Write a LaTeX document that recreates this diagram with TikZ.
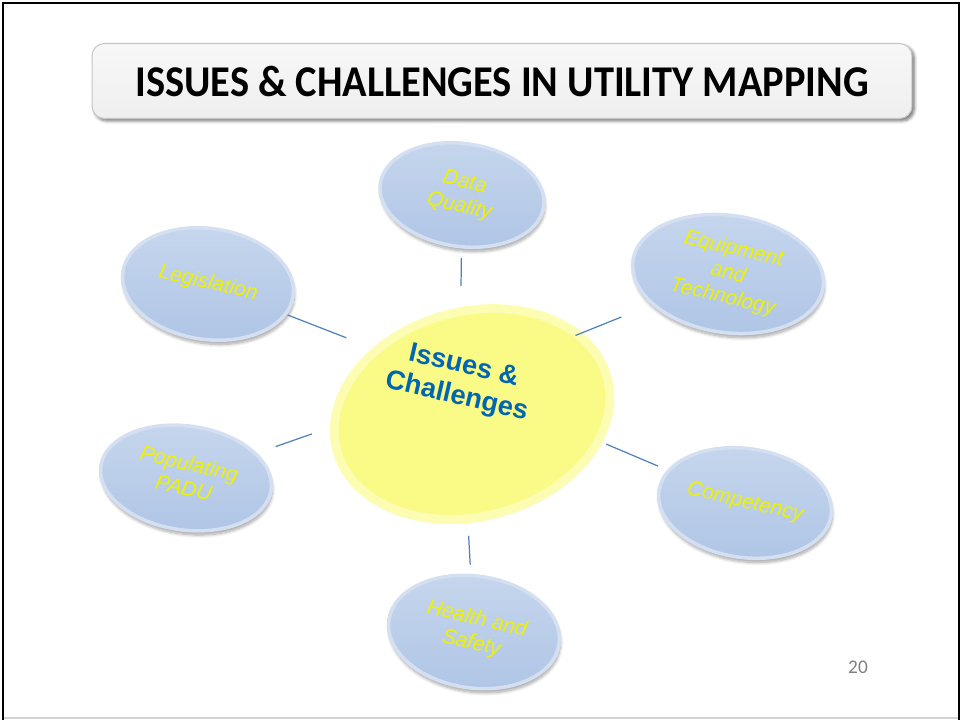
\documentclass[tikz,border=0pt]{standalone}
\usepackage{graphicx}
\usepackage{fontspec}
\newfontfamily\arialfont{Liberation Sans}
\newfontfamily\calibrifont{Carlito}
\newfontfamily\titlefont[FakeStretch=0.92]{Carlito}
\usetikzlibrary{shapes.geometric,shadows.blur}

\definecolor{discblue}{RGB}{176,198,230}
\definecolor{discword}{RGB}{238,242,0}
\definecolor{hubyellow}{RGB}{250,250,135}
\definecolor{hubrim}{RGB}{252,252,178}
\definecolor{hubword}{RGB}{0,102,178}
\definecolor{linkblue}{RGB}{79,129,189}

% tilted text inside a disc
\newcommand\tilt[1]{\rotatebox{-5}{\begin{tabular}{@{}c@{}}#1\end{tabular}}}

\tikzset{
  disc/.style={ellipse, inner sep=0pt, rotate=-8, draw=discblue!55!white, line width=2pt,
    top color=discblue!72!white, bottom color=discblue,
    blur shadow={shadow xshift=0.6pt, shadow yshift=-2.4pt, shadow opacity=35, shadow blur steps=8},
    text=discword, font=\arialfont\itshape\fontsize{12}{14}\selectfont},
  link/.style={draw=linkblue, line width=0.7pt},
}

\begin{document}
\begin{tikzpicture}[x=0.02cm, y=-0.02cm]
    \useasboundingbox (0,0) rectangle (962,720);

    % Slide frame
    \draw[gray!35, line width=0.8pt] (3,718) -- (959,718);
    \draw[line width=1.3pt] (3,720) -- (3,3) -- (959,3) -- (959,720);

    % Title
    \node[rounded corners=7pt, minimum width=16.4cm, minimum height=1.5cm,
          top color=gray!6, bottom color=gray!13, draw=gray!45, line width=0.6pt,
          blur shadow={shadow xshift=1.4pt, shadow yshift=-1.4pt, shadow opacity=55, shadow blur steps=5},
          font=\titlefont\bfseries\fontsize{25}{28}\selectfont]
        (title) at (502,81) {ISSUES \& CHALLENGES IN UTILITY MAPPING};

    % Centre disc
    \node[ellipse, rotate=15, minimum width=5.6cm, minimum height=4.1cm,
          fill=hubyellow, draw=hubrim, line width=5pt,
          blur shadow={shadow xshift=0.5pt, shadow yshift=-1.5pt, shadow opacity=15, shadow blur steps=8}]
        (hub) at (472,414) {};
    \node[rotate=-13, align=center, text=hubword,
          font=\arialfont\bfseries\fontsize{15.5}{18}\selectfont]
        (hubtext) at (460,382) {Issues \&\\Challenges};

    % Outer discs
    \node[disc, minimum width=3.3cm, minimum height=2.06cm]  (quality)     at (462,195) {\tilt{Data\\Quality}};
    \node[disc, minimum width=3.84cm, minimum height=2.2cm]  (equipment)   at (728,274) {\tilt{Equipment\\and\\Technology}};
    \node[disc, minimum width=3.44cm, minimum height=2.22cm] (legislation) at (208,284) {\tilt{Legislation}};
    \node[disc, minimum width=3.44cm, minimum height=2.08cm] (padu)        at (186,478) {\tilt{Populating\\PADU}};
    \node[disc, minimum width=3.48cm, minimum height=2.18cm] (competency)  at (745,503) {\tilt{Competency}};
    \node[disc, minimum width=3.44cm, minimum height=2.24cm] (health)      at (474,632) {\tilt{Health and\\Safety}};

    % Spokes
    \draw[link, shorten <=1.92cm, shorten >=1.26cm] (hubtext.center) -- (quality.center);
    \draw[link, shorten <=2.49cm, shorten >=2.30cm] (hubtext.center) -- (equipment.center);
    \draw[link, shorten <=2.44cm, shorten >=1.71cm] (hubtext.center) -- (legislation.center);
    \draw[link, shorten <=3.14cm, shorten >=1.90cm] (hubtext.center) -- (padu.center);
    \draw[link, shorten <=3.18cm, shorten >=1.89cm] (hubtext.center) -- (competency.center);
    \draw[link, shorten <=3.08cm, shorten >=1.35cm] (hubtext.center) -- (health.center);

    % Slide number
    \node[text=gray, font=\calibrifont\fontsize{11}{12}\selectfont] (page) at (858,667) {20};
\end{tikzpicture}
\end{document}
